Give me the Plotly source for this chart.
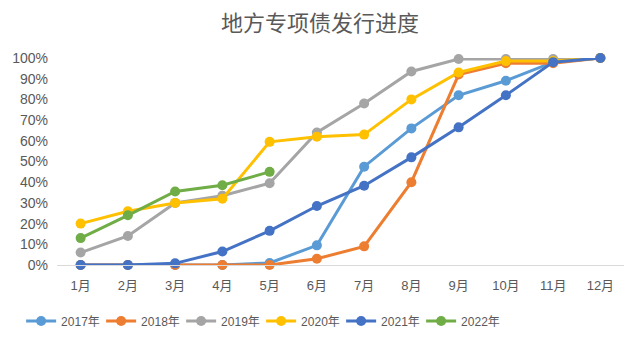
import plotly.graph_objects as go

months = ["1月", "2月", "3月", "4月", "5月", "6月", "7月", "8月", "9月", "10月", "11月", "12月"]
y2017 = [0, 0, 0, 0, 1, 9.5, 47.5, 66, 82, 89, 98, 100]
y2018 = [0, 0, 0, 0, 0, 3, 9, 40, 92, 97.5, 97.5, 100]
y2019 = [6, 14, 30, 33.5, 39.5, 64, 78, 93.5, 99.5, 99.5, 99.5, 100]
y2020 = [20, 26, 30, 32, 59.5, 62, 63, 80, 93, 98.5, 98.5, 100]
y2021 = [0, 0, 0.8, 6.5, 16.5, 28.5, 38.3, 52, 66.5, 82, 98, 100]
y2022 = [13, 24, 35.5, 38.5, 45]

series = [
    ("2017年", y2017, "#5B9BD5"),
    ("2018年", y2018, "#ED7D31"),
    ("2019年", y2019, "#A5A5A5"),
    ("2020年", y2020, "#FFC000"),
    ("2021年", y2021, "#4472C4"),
    ("2022年", y2022, "#70AD47"),
]

fig = go.Figure()
for name, vals, color in series:
    fig.add_trace(go.Scatter(
        x=months[:len(vals)], y=[v / 100 for v in vals], name=name,
        mode="lines+markers",
        line=dict(color=color, width=3),
        marker=dict(color=color, size=10),
        cliponaxis=False,
    ))

font_family = "Liberation Sans, Noto Sans CJK SC, sans-serif"
fig.update_layout(
    width=640, height=339,
    margin=dict(l=54, r=16, t=58, b=74),
    paper_bgcolor="white", plot_bgcolor="white",
    font=dict(family=font_family, color="#595959", size=13),
    title=dict(text="地方专项债发行进度", x=0.5, xanchor="center", y=1 - 23 / 339, yanchor="middle",
               font=dict(size=22, color="#595959", family="Noto Sans CJK SC, sans-serif")),
    showlegend=True,
    legend=dict(orientation="h", x=0.36, xanchor="center", yref="container",
                y=1 - 321 / 339, yanchor="middle",
                font=dict(size=12, color="#595959"), itemwidth=30,
                entrywidth=35, entrywidthmode="pixels",
                tracegroupgap=0),
    xaxis=dict(type="category", range=[-0.5, 11.5], showgrid=False, showline=True,
               linecolor="#D9D9D9", linewidth=1, ticks="", zeroline=False,
               ticklabelstandoff=8,
               tickfont=dict(size=13, color="#595959")),
    yaxis=dict(range=[0, 1.0], dtick=0.1, tickformat=".0%", showgrid=False,
               zeroline=False, showline=False, ticks="", ticklabelstandoff=8,
               tickfont=dict(size=14, color="#595959")),
)

fig.write_html("out.html")
